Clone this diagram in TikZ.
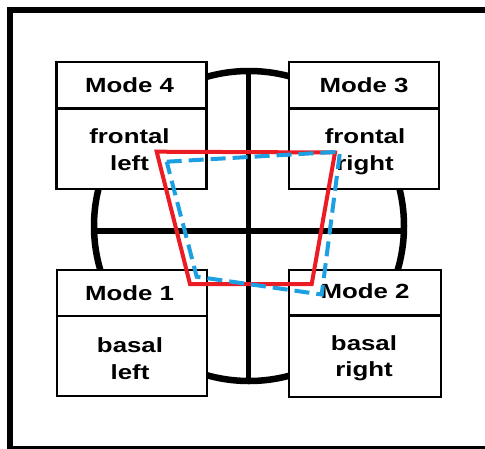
\documentclass[tikz,border=0pt]{standalone}
\usepackage{fontspec}
\newfontfamily\boxfont[FakeStretch=1.26]{Liberation Sans Bold}
\definecolor{quadred}{RGB}{236,28,36}
\definecolor{quadblue}{RGB}{28,160,226}
\begin{document}
\begin{tikzpicture}[x=1pt,y=-1pt,
  frame/.style={line width=6pt},
  ringline/.style={line width=6.5pt},
  crossline/.style={line width=5.5pt},
  box/.style={draw, fill=white, line width=2.6pt, inner sep=0pt, outer sep=0pt, anchor=north west},
  lbl/.style={anchor=base, inner sep=0pt, font=\boxfont\fontsize{20.5}{24}\selectfont},
  redquad/.style={draw=quadred, line width=4pt, line join=miter},
  bluequad/.style={draw=quadblue, line width=4pt, dash pattern=on 15pt off 7pt, line join=miter}]
\useasboundingbox (0,0) rectangle (485,448);
\begin{scope}
\clip (0,0) rectangle (485,448);
% outer frame (right side and bottom run off the page edge)
\draw[frame] (9.7,9.7) rectangle (495,449);
\end{scope}

% ring with cross
\node[circle, draw, ringline, minimum size=310pt, inner sep=0pt] (ring) at (249,226) {};
\draw[crossline] ([xshift=-0.5pt]ring.north) -- ([xshift=-0.5pt]ring.south);
\draw[crossline] ([yshift=-5pt]ring.west) -- ([yshift=-5pt]ring.east);

% Mode 4
\node[box, minimum width=150pt, minimum height=46.5pt] (m4head) at (56.5,62) {};
\node[box, minimum width=150pt, minimum height=80.5pt] (m4body) at (m4head.south west) {};
% Mode 3
\node[box, minimum width=150pt, minimum height=46.5pt] (m3head) at (289,62) {};
\node[box, minimum width=150pt, minimum height=80.5pt] (m3body) at (m3head.south west) {};
% Mode 1
\node[box, minimum width=150pt, minimum height=46pt] (m1head) at (57,270) {};
\node[box, minimum width=150pt, minimum height=80pt] (m1body) at (m1head.south west) {};
% Mode 2
\node[box, minimum width=152pt, minimum height=45.5pt] (m2head) at (289,270) {};
\node[box, minimum width=152pt, minimum height=81.5pt] (m2body) at (m2head.south west) {};

% labels
\node[lbl] (t4a) at (129.5,92.8) {Mode 4};
\node[lbl] (t4b) at (129.5,143.3) {frontal};
\node[lbl] (t4c) at (129.5,170) {left};
\node[lbl] (t3a) at (364,92.6) {Mode 3};
\node[lbl] (t3b) at (365,143.3) {frontal};
\node[lbl] (t3c) at (365,170) {right};
\node[lbl] (t1a) at (129.5,300) {Mode 1};
\node[lbl] (t1b) at (130,352.5) {basal};
\node[lbl] (t1c) at (130,379) {left};
\node[lbl] (t2a) at (365,298) {Mode 2};
\node[lbl] (t2b) at (364,350.5) {basal};
\node[lbl] (t2c) at (364,376) {right};

% quadrilaterals
\coordinate (r1) at (156.7,151.7);
\coordinate (r2) at (335,152.5);
\coordinate (r3) at (311.7,284);
\coordinate (r4) at (190,284);
\draw[redquad] (r1) -- (r2) -- (r3) -- (r4) -- cycle;
\coordinate (b1) at (166.7,161.7);
\coordinate (b2) at (340,151.7);
\coordinate (b3) at (321.7,294.5);
\coordinate (b4) at (196.7,276.7);
\draw[bluequad] (b1) -- (b2) -- (b3) -- (b4) -- cycle;
\end{tikzpicture}
\end{document}
